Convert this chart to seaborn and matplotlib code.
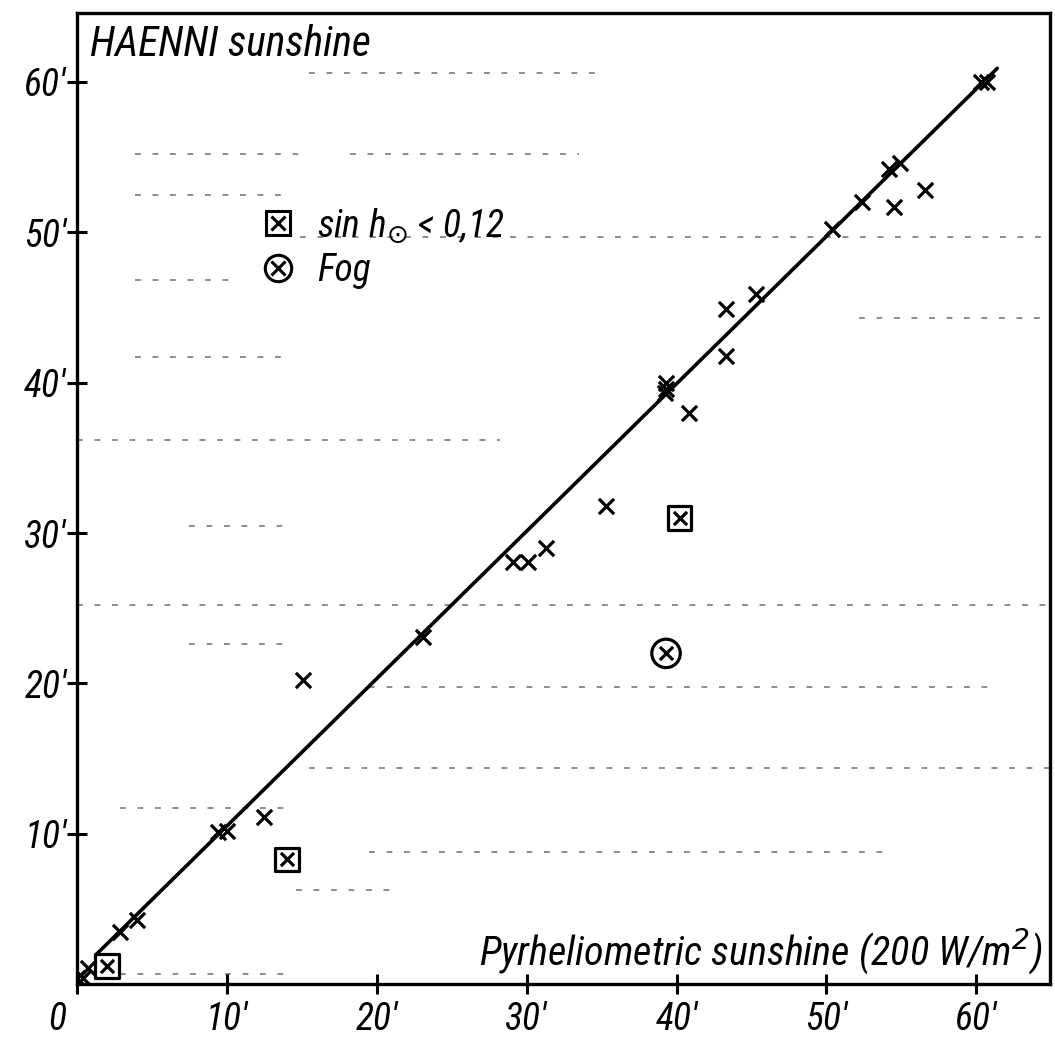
import numpy as np
import pandas as pd
import matplotlib
matplotlib.use('Agg')
import matplotlib.pyplot as plt
import matplotlib.transforms as mtransforms
import seaborn as sns

# readings (minutes of sunshine per hour)
pyr_x = [0.0, 0.4, 0.7, 2.9, 4.0, 9.4, 10.0, 12.5, 15.1, 23.1, 29.1, 30.1, 31.3,
         35.3, 39.2, 39.3, 39.3, 40.8, 43.3, 43.3, 45.3, 50.4, 52.4, 54.2, 54.5,
         54.9, 56.6, 60.3, 60.7]
haenni_y = [0.4, 0.4, 1.1, 3.5, 4.3, 10.1, 10.2, 11.1, 20.2, 23.1, 28.1, 28.1, 29.0,
            31.8, 39.3, 39.6, 40.0, 38.0, 44.9, 41.8, 45.9, 50.2, 52.0, 54.2, 51.7,
            54.6, 52.8, 60.0, 60.0]

# low sun (sin h < 0.12)
low_x = [2.0, 14.0, 40.2]
low_y = [1.2, 8.3, 31.0]

# fog
fog_x = [39.3]
fog_y = [22.0]

# fitted line
line_x = [1.3, 61.4]
line_y = [2.0, 60.9]

tick_vals = [0, 10, 20, 30, 40, 50, 60]
xtick_labels = ["0", "10'", "20'", "30'", "40'", "50'", "60'"]
ytick_vals = [10, 20, 30, 40, 50, 60]
ytick_labels = ["10'", "20'", "30'", "40'", "50'", "60'"]

# faint ruled lines of the scanned sheet
rule_y = [60.6, 55.2, 55.2, 52.5, 49.7, 46.8, 44.3, 41.7, 36.2, 30.5, 25.2,
          22.6, 19.8, 14.4, 11.7, 8.8, 6.3, 0.7]
rule_x0 = [15.5, 3.9, 18.2, 3.9, 14.9, 3.9, 52.2, 3.9, 0.0, 7.5, 0.0,
           7.5, 19.5, 15.5, 2.9, 19.5, 14.6, 2.9]
rule_x1 = [34.9, 14.9, 33.5, 14.2, 64.9, 10.2, 64.9, 14.2, 28.2, 14.2, 64.9,
           14.2, 61.5, 64.9, 14.2, 54.2, 21.0, 14.2]

sns.set_theme(style='ticks')
plt.rcParams['font.family'] = ['Liberation Sans Narrow', 'Roboto Condensed',
                               'Liberation Sans', 'DejaVu Sans']
plt.rcParams['font.style'] = 'italic'
plt.rcParams['text.color'] = 'black'
plt.rcParams['mathtext.fontset'] = 'dejavusans'

fig = plt.figure(figsize=(10.55, 10.55), dpi=100)
ax = fig.add_axes([0.073, 0.067, 0.922, 0.921])

ax.hlines(rule_y, rule_x0, rule_x1, colors='0.55', linewidth=1.4,
          linestyles=(0, (3, 6)), zorder=0)

sns.lineplot(x=line_x, y=line_y, ax=ax, color='black', linewidth=2.6)

df = pd.DataFrame({'x': pyr_x, 'y': haenni_y})
sns.scatterplot(data=df, x='x', y='y', ax=ax, marker='x', s=120,
                color='black', linewidth=2.3, zorder=3)

ax.scatter(low_x, low_y, marker='s', s=290, facecolors='none',
           edgecolors='black', linewidths=2.3, zorder=3)
ax.scatter(low_x, low_y, marker='x', s=90, color='black', linewidths=2.3, zorder=3)
ax.scatter(fog_x, fog_y, marker='o', s=420, facecolors='none',
           edgecolors='black', linewidths=2.3, zorder=3)
ax.scatter(fog_x, fog_y, marker='x', s=90, color='black', linewidths=2.3, zorder=3)

# legend
h_sq = plt.Line2D([], [], marker='s', markersize=17, markerfacecolor='none',
                  markeredgecolor='black', markeredgewidth=2.2, linestyle='none')
h_ci = plt.Line2D([], [], marker='o', markersize=19, markerfacecolor='none',
                  markeredgecolor='black', markeredgewidth=2.2, linestyle='none')
h_x = plt.Line2D([], [], marker='x', markersize=9.5, color='black',
                 markeredgewidth=2.2, linestyle='none')
leg = ax.legend([(h_sq, h_x), (h_ci, h_x)],
                [r"sin h$_{\odot}$ < 0,12", "Fog"],
                loc='center left', bbox_to_anchor=(0.168, 0.758), frameon=False,
                fontsize=27, handlelength=1.0, handletextpad=0.55,
                labelspacing=0.2, borderpad=0)
for t in leg.get_texts():
    t.set_color('black')

ax.set_xlim(0, 64.9)
ax.set_ylim(0, 64.6)
ax.set_xticks(tick_vals)
ax.set_xticklabels(xtick_labels)
ax.set_yticks(ytick_vals)
ax.set_yticklabels(ytick_labels)
ax.tick_params(direction='inout', length=14, width=2.2, labelsize=27,
               color='black', labelcolor='black')
ax.tick_params(axis='x', pad=5)
ax.tick_params(axis='y', pad=0.5)
ax.set_xlabel('')
ax.set_ylabel('')

# the "0" label sits a little left of the origin
zero = ax.get_xticklabels()[0]
zero.set_transform(zero.get_transform() +
                   mtransforms.ScaledTranslation(-0.2, 0, fig.dpi_scale_trans))

for sp in ax.spines.values():
    sp.set_visible(True)
    sp.set_linewidth(2.4)
    sp.set_color('black')

ax.text(0.013, 0.988, 'HAENNI sunshine', transform=ax.transAxes,
        ha='left', va='top', fontsize=30, color='black')
ax.text(0.993, 0.02, 'Pyrheliometric sunshine (200 W/m$^2$)',
        transform=ax.transAxes, ha='right', va='baseline', fontsize=29,
        color='black')

fig.savefig('out.png', dpi=100, facecolor='white')
